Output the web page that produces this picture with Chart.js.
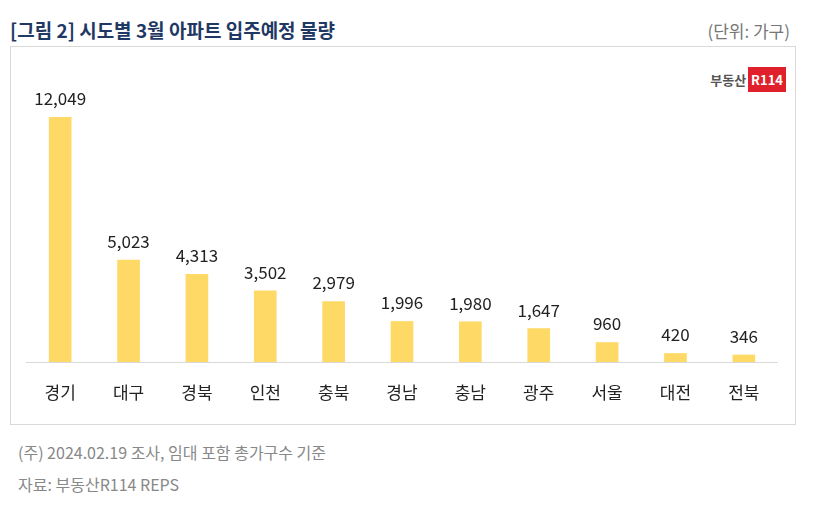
<!DOCTYPE html>
<html><head><meta charset="utf-8">
<script src="https://cdn.jsdelivr.net/npm/chart.js@4"></script>
<style>
body{margin:0;width:818px;height:505px;background:#fff;font-family:"Noto Sans CJK KR","Noto Sans",sans-serif;position:relative;overflow:hidden}
#title{position:absolute;left:10px;top:16px;font-size:19px;font-weight:bold;color:#1f3864}
#unit{position:absolute;right:28px;top:18px;font-size:17px;color:#777}
#box{position:absolute;left:10px;top:46px;width:786px;height:379px;border:1px solid #d9d9d9;box-sizing:border-box}
#logo{position:absolute;right:32px;top:70px;font-size:13px;font-weight:bold;color:#555}
#logo span{background:#e0202b;color:#fff;padding:3px 3px;margin-left:2px}
.note{position:absolute;left:18px;font-size:16px;color:#888}
canvas{position:absolute;left:0;top:0}
</style></head><body>
<div id="title">[그림 2] 시도별 3월 아파트 입주예정 물량</div>
<div id="unit">(단위: 가구)</div>
<div id="box"></div>
<div id="logo">부동산<span>R114</span></div>
<div class="note" style="top:440px">(주) 2024.02.19 조사, 임대 포함 총가구수 기준</div>
<div class="note" style="top:472px">자료: 부동산R114 REPS</div>
<canvas id="c" width="818" height="505"></canvas>
<script>
const regions = ['경기','대구','경북','인천','충북','경남','충남','광주','서울','대전','전북'];
const units = [12049,5023,4313,3502,2979,1996,1980,1647,960,420,346];

const labelsPlugin = {
  id: 'labels',
  afterDatasetsDraw(chart) {
    const ctx = chart.ctx, meta = chart.getDatasetMeta(0), area = chart.chartArea;
    ctx.save();
    ctx.strokeStyle = '#d9d9d9'; ctx.lineWidth = 1;
    ctx.beginPath(); ctx.moveTo(area.left, area.bottom + 0.5); ctx.lineTo(area.right, area.bottom + 0.5); ctx.stroke();
    ctx.fillStyle = '#222'; ctx.textAlign = 'center';
    ctx.font = '17px "Noto Sans CJK KR", sans-serif';
    meta.data.forEach((bar, i) => {
      ctx.textBaseline = 'bottom';
      ctx.fillText(units[i].toLocaleString('en-US'), bar.x, bar.y - 10);
      ctx.textBaseline = 'middle';
      ctx.fillText(regions[i], bar.x, area.bottom + 31);
    });
    ctx.restore();
  }
};

new Chart(document.getElementById('c').getContext('2d'), {
  type: 'bar',
  data: { labels: regions, datasets: [{ data: units, backgroundColor: '#ffd966', barThickness: 22 }] },
  options: {
    responsive: false, animation: false,
    layout: { padding: { left: 26, right: 40, top: 98, bottom: 143 } },
    plugins: { legend: { display: false }, tooltip: { enabled: false } },
    scales: {
      x: { display: false },
      y: { display: false, min: 0, max: 13000 }
    }
  },
  plugins: [labelsPlugin]
});
</script>
</body></html>
